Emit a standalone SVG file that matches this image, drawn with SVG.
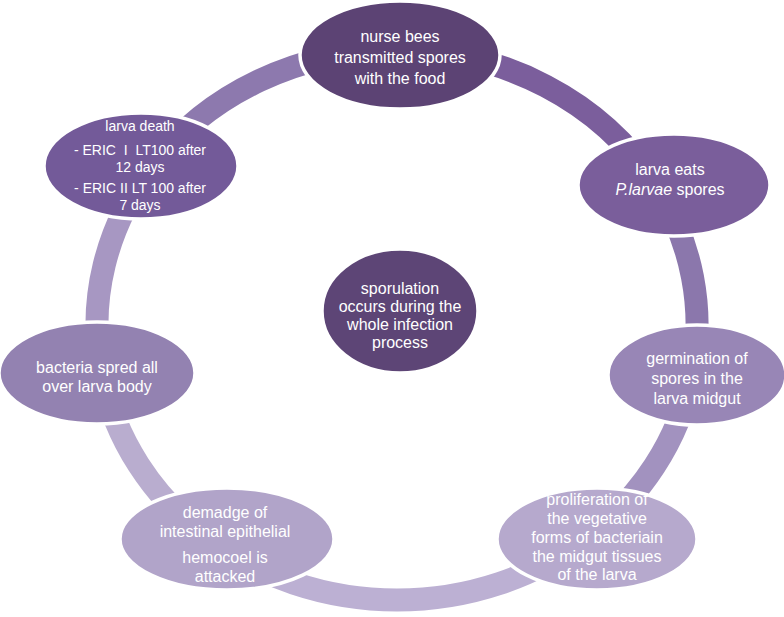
<svg xmlns="http://www.w3.org/2000/svg" width="784" height="617" viewBox="0 0 784 617">
<style>
.seg{fill:none;stroke-width:23;stroke-linecap:butt}
.node{stroke:#ffffff;stroke-width:3.5}
.t{font-family:"Liberation Sans",Arial,sans-serif;font-size:16px;fill:#ffffff;text-anchor:middle}
.s{font-size:14px;white-space:pre}
</style>
<rect width="784" height="617" fill="#ffffff"/>
<g id="connectors">
<path class="seg" stroke="#7b5e9c" d="M397,50 A300,275 0 0 1 655.4,185"/>
<path class="seg" stroke="#8b77ac" d="M655.4,185 A300,275 0 0 1 692,375"/>
<path class="seg" stroke="#a292bf" d="M692,375 A300,275 0 0 1 585.4,539"/>
<path class="seg" stroke="#bcb0d3" d="M585.4,539 A300,275 0 0 1 208.6,539"/>
<path class="seg" stroke="#b9adcf" d="M208.6,539 A300,275 0 0 1 101.6,373"/>
<path class="seg" stroke="#a797c2" d="M101.6,373 A300,275 0 0 1 152.2,166"/>
<path class="seg" stroke="#8d79ae" d="M152.2,166 A300,275 0 0 1 397,50"/>
</g>
<g id="n1">
<ellipse class="node" cx="400" cy="55" rx="100" ry="54" fill="#5c4374"/>
<text class="t" x="400" y="42">nurse bees</text>
<text class="t" x="400" y="63">transmitted spores</text>
<text class="t" x="400" y="84">with the food</text>
</g>
<g id="n2">
<ellipse class="node" cx="674" cy="185" rx="96" ry="51" fill="#7a5e9b"/>
<text class="t" x="670" y="175">larva eats</text>
<text class="t" x="670" y="195"><tspan font-style="italic">P.larvae</tspan> spores</text>
</g>
<g id="n3">
<ellipse class="node" cx="697" cy="375" rx="89" ry="50" fill="#9886b6"/>
<text class="t" x="697" y="364">germination of</text>
<text class="t" x="697" y="384">spores in the</text>
<text class="t" x="697" y="404">larva midgut</text>
</g>
<g id="n4">
<ellipse class="node" cx="597" cy="539" rx="100" ry="51" fill="#b6a9cd"/>
<text class="t" x="597" y="505">proliferation of</text>
<text class="t" x="597" y="524">the vegetative</text>
<text class="t" x="597" y="543">forms of bacteriain</text>
<text class="t" x="597" y="562">the midgut tissues</text>
<text class="t" x="597" y="580">of the larva</text>
</g>
<g id="n5">
<ellipse class="node" cx="227" cy="539" rx="107" ry="51" fill="#b1a4c9"/>
<text class="t" x="225" y="518">demadge of</text>
<text class="t" x="225" y="537">intestinal epithelial</text>
<text class="t" x="225" y="563">hemocoel is</text>
<text class="t" x="225" y="582">attacked</text>
</g>
<g id="n6">
<ellipse class="node" cx="97" cy="373" rx="98" ry="51" fill="#9382b1"/>
<text class="t" x="97" y="373">bacteria spred all</text>
<text class="t" x="97" y="392">over larva body</text>
</g>
<g id="n7">
<ellipse class="node" cx="141" cy="166" rx="97" ry="53" fill="#735a99"/>
<text class="t s" x="140" y="131">larva death</text>
<text class="t s" x="140" y="155">- ERIC  I  LT100 after</text>
<text class="t s" x="140" y="172">12 days</text>
<text class="t s" x="140" y="193">- ERIC II LT 100 after</text>
<text class="t s" x="140" y="210">7 days</text>
</g>
<g id="n8">
<ellipse class="node" cx="400" cy="311" rx="78" ry="62" fill="#5d4576"/>
<text class="t" x="400" y="294">sporulation</text>
<text class="t" x="400" y="312">occurs during the</text>
<text class="t" x="400" y="330">whole infection</text>
<text class="t" x="400" y="348">process</text>
</g>
</svg>
